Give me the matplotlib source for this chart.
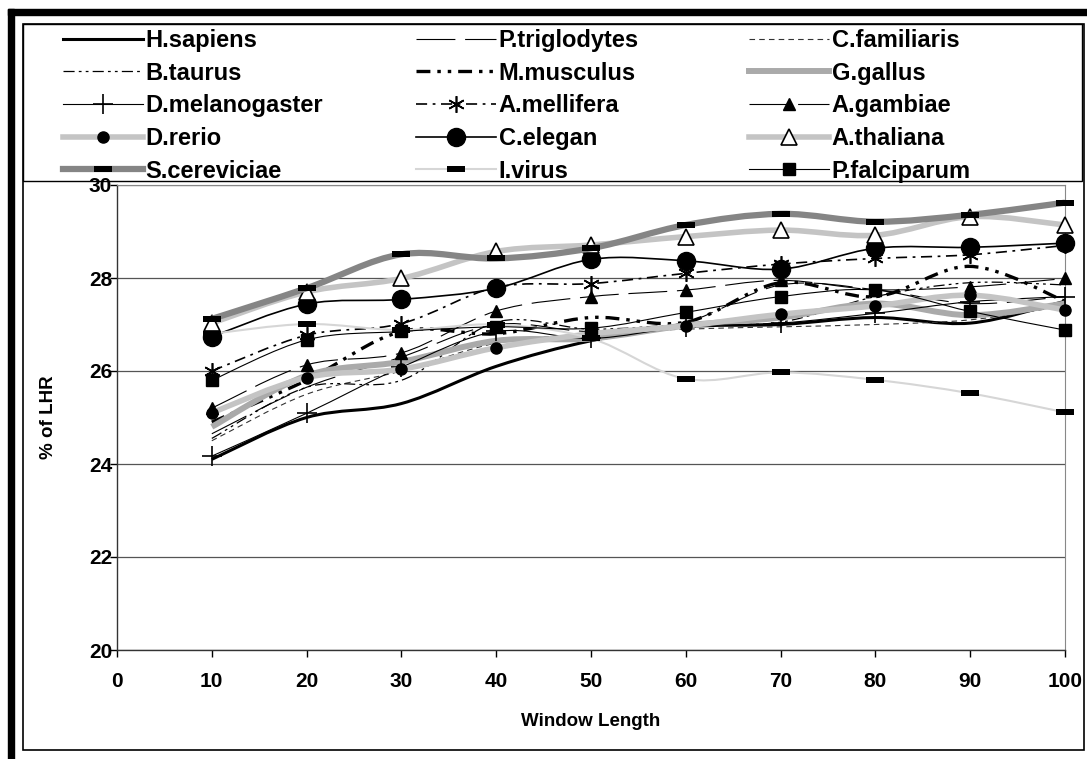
import numpy as np
import matplotlib
matplotlib.use("Agg")
import matplotlib.pyplot as plt
from matplotlib.path import Path
from matplotlib.patches import PathPatch, Rectangle
from matplotlib.lines import Line2D

plt.rcParams['font.family'] = ['Liberation Sans', 'DejaVu Sans']
plt.rcParams['font.weight'] = 'bold'
plt.rcParams['lines.scale_dashes'] = False

window = [10, 20, 30, 40, 50, 60, 70, 80, 90, 100]

h_sapiens = [24.1, 25.0, 25.3, 26.1, 26.65, 26.95, 27.0, 27.15, 27.03, 27.5]
p_triglodytes = [24.65, 25.65, 26.3, 27.0, 26.85, 27.05, 27.85, 27.75, 27.45, 27.6]
c_familiaris = [24.5, 25.5, 26.0, 26.6, 26.8, 26.9, 26.95, 27.0, 27.1, 27.4]
b_taurus = [24.55, 25.65, 25.8, 27.05, 26.9, 27.0, 27.05, 27.6, 27.9, 27.85]
m_musculus = [24.9, 25.8, 26.85, 26.8, 27.15, 27.05, 27.9, 27.6, 28.25, 27.5]
g_gallus = [24.8, 25.9, 26.2, 26.65, 26.7, 26.98, 27.15, 27.45, 27.2, 27.45]
d_melanogaster = [24.17, 25.09, 26.08, 26.85, 26.7, 26.95, 27.03, 27.24, 27.49, 27.6]
a_mellifera = [26.0, 26.77, 27.02, 27.8, 27.88, 28.1, 28.3, 28.42, 28.5, 28.7]
a_gambiae = [25.2, 26.13, 26.39, 27.29, 27.6, 27.74, 27.95, 27.75, 27.81, 27.99]
d_rerio = [25.1, 25.86, 26.04, 26.5, 26.8, 26.97, 27.22, 27.4, 27.63, 27.31]
c_elegan = [26.74, 27.44, 27.54, 27.78, 28.4, 28.37, 28.19, 28.64, 28.66, 28.75]
a_thaliana = [27.03, 27.7, 27.99, 28.57, 28.71, 28.89, 29.03, 28.92, 29.32, 29.14]
s_cereviciae = [27.12, 27.78, 28.51, 28.42, 28.64, 29.14, 29.38, 29.21, 29.36, 29.62]
i_virus = [26.8, 27.01, 26.88, 27.0, 26.7, 25.83, 25.97, 25.81, 25.52, 25.11]
p_falciparum = [25.8, 26.67, 26.85, 26.95, 26.92, 27.26, 27.6, 27.74, 27.28, 26.88]

# flat black bar used as marker
bar = [(-1, -0.28), (1, -0.28), (1, 0.28), (-1, 0.28), (-1, -0.28)]

series = [
    ("H.sapiens", h_sapiens, dict(color='black', lw=2.2, ls='-'), None),
    ("P.triglodytes", p_triglodytes, dict(color='black', lw=0.8, ls=(0, (28, 7))), None),
    ("C.familiaris", c_familiaris, dict(color='#333333', lw=0.8, ls=(0, (4, 3))), None),
    ("B.taurus", b_taurus, dict(color='black', lw=0.9, ls=(0, (8, 3, 2, 3, 2, 3))), None),
    ("M.musculus", m_musculus, dict(color='black', lw=2.4, ls=(0, (10, 5, 2.5, 5, 2.5, 5))), None),
    ("G.gallus", g_gallus, dict(color='#aaaaaa', lw=4.3, ls='-'), None),
    ("D.melanogaster", d_melanogaster, dict(color='black', lw=0.8, ls='-'),
     dict(marker='+', ms=15, mew=1.2, mfc='black', mec='black')),
    ("A.mellifera", a_mellifera, dict(color='black', lw=1.2, ls=(0, (8, 4, 2, 4))),
     dict(marker=(6, 2, 0), ms=12, mew=1.2, mfc='black', mec='black')),
    ("A.gambiae", a_gambiae, dict(color='black', lw=0.8, ls=(0, (28, 7))),
     dict(marker='^', ms=8, mfc='black', mec='black')),
    ("D.rerio", d_rerio, dict(color='#c4c4c4', lw=4.0, ls='-'),
     dict(marker='o', ms=8, mfc='black', mec='black')),
    ("C.elegan", c_elegan, dict(color='black', lw=1.2, ls='-'),
     dict(marker='o', ms=13, mfc='black', mec='black')),
    ("A.thaliana", a_thaliana, dict(color='#c4c4c4', lw=4.0, ls='-'),
     dict(marker='^', ms=12, mfc='white', mec='black', mew=1.2)),
    ("S.cereviciae", s_cereviciae, dict(color='#858585', lw=4.5, ls='-'),
     dict(marker=bar, ms=13, mfc='black', mec='black', mew=0)),
    ("I.virus", i_virus, dict(color='#d6d6d6', lw=1.5, ls='-'),
     dict(marker=bar, ms=13, mfc='black', mec='black', mew=0)),
    ("P.falciparum", p_falciparum, dict(color='black', lw=0.8, ls='-'),
     dict(marker='s', ms=9, mfc='black', mec='black')),
]


def smooth_path(x, y):
    pts = np.column_stack([x, y]).astype(float)
    n = len(pts)
    verts = [pts[0]]
    codes = [Path.MOVETO]
    for i in range(n - 1):
        p0 = pts[max(i - 1, 0)]
        p1 = pts[i]
        p2 = pts[i + 1]
        p3 = pts[min(i + 2, n - 1)]
        verts += [p1 + (p2 - p0) / 6, p2 - (p3 - p1) / 6, p2]
        codes += [Path.CURVE4] * 3
    return Path(verts, codes)


fig = plt.figure(figsize=(10.87, 7.59), dpi=100)
W, H = 1087.0, 759.0

# outer frame
fig.patches.append(Rectangle((8 / W, 0), 6 / W, 1 - 9 / H, transform=fig.transFigure,
                             color='black', zorder=0))
fig.patches.append(Rectangle((8 / W, 1 - 15 / H), 1, 6 / H, transform=fig.transFigure,
                             color='black', zorder=0))
fig.patches.append(Rectangle((23 / W, 1 - 750 / H), (1084 - 23) / W, (750 - 24) / H,
                             transform=fig.transFigure, fill=False, ec='black', lw=1.2, zorder=0))
fig.patches.append(Rectangle((23 / W, 1 - 181 / H), (1082 - 23) / W, (181 - 24) / H,
                             transform=fig.transFigure, fill=False, ec='black', lw=1.0, zorder=0))

ax = fig.add_axes([117 / W, 1 - 650 / H, (1065 - 117) / W, (650 - 185) / H])
ax.set_xlim(0, 100)
ax.set_ylim(20, 30)
ax.set_xticks(range(0, 101, 10))
ax.set_yticks(range(20, 31, 2))
ax.yaxis.grid(True, color='#555555', lw=0.9)
ax.set_axisbelow(True)
for s in ['top', 'right']:
    ax.spines[s].set_color('#888888')
for s in ['left', 'bottom']:
    ax.spines[s].set_color('#333333')
    ax.spines[s].set_linewidth(1.0)
ax.tick_params(axis='x', direction='out', length=5, width=1, labelsize=15, pad=11)
ax.tick_params(axis='y', direction='out', length=5, width=1, labelsize=15, pad=-1.5)

handles = []
for k, (name, vals, lstyle, mstyle) in enumerate(series):
    z = 2 + k * 0.1
    patch = PathPatch(smooth_path(window, vals), fill=False, edgecolor=lstyle['color'],
                      lw=lstyle['lw'], linestyle=lstyle['ls'], capstyle='butt', zorder=z)
    ax.add_patch(patch)
    if mstyle is not None:
        ax.plot(window, vals, linestyle='none', zorder=z + 0.05, clip_on=False, **mstyle)
        h = Line2D([], [], color=lstyle['color'], lw=lstyle['lw'], ls=lstyle['ls'], **mstyle)
    else:
        h = Line2D([], [], color=lstyle['color'], lw=lstyle['lw'], ls=lstyle['ls'])
    h.set_dash_capstyle('butt')
    handles.append(h)

ax.set_xlabel("Window Length", fontsize=13.5, fontweight='bold')
ax.xaxis.set_label_coords(0.5, -0.135)
ax.set_ylabel("% of LHR", fontsize=13.5, fontweight='bold')
ax.yaxis.set_label_coords(-0.063, 0.5)

# one legend per column, laid out like the original
col_x = [63, 416, 749]
for c in range(3):
    idx = [c + 3 * r for r in range(5)]
    leg = fig.legend([handles[i] for i in idx], [series[i][0] for i in idx],
                     loc='upper left', bbox_to_anchor=(col_x[c] / W, 1 - 29 / H),
                     ncol=1, frameon=False, numpoints=1, prop=dict(size=17, weight='bold'),
                     handlelength=3.4, handletextpad=0.1, labelspacing=0.41,
                     borderpad=0, borderaxespad=0)

fig.savefig("out.png", dpi=100)
